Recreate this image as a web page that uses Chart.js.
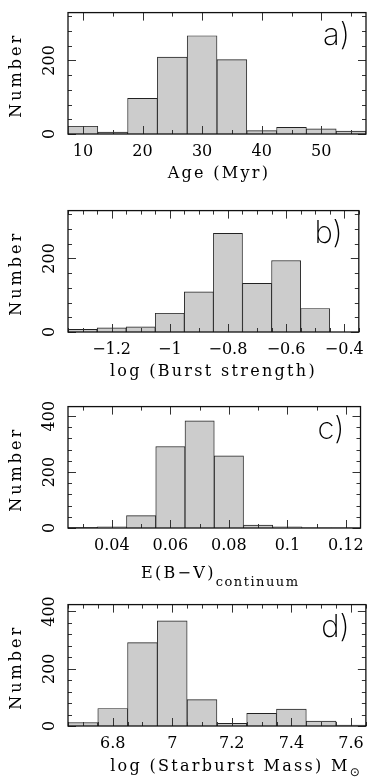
<!DOCTYPE html>
<html>
<head>
<meta charset="utf-8">
<script src="https://cdn.jsdelivr.net/npm/chart.js@4.4.1/dist/chart.umd.min.js"></script>
<style>
	body { margin: 0; background: #fff; width: 372px; height: 781px; overflow: hidden; position: relative; }
	canvas { position: absolute; left: 0; }
</style>
</head>
<body>
<canvas id="graph_age" width="372" height="195" style="top:0px"></canvas>
<canvas id="graph_burst" width="372" height="194" style="top:198px"></canvas>
<canvas id="graph_ebv" width="372" height="198" style="top:394px"></canvas>
<canvas id="graph_mass" width="372" height="189" style="top:592px"></canvas>
<script>
// bin centres and counts
var ageBins = [10, 15, 20, 25, 30, 35, 40, 45, 50, 55];
var ageCounts = [21, 5, 97, 209, 267, 202, 9, 18, 14, 8];
var ageTicks = [10, 20, 30, 40, 50];

var burstBins = [-1.3, -1.2, -1.1, -1.0, -0.9, -0.8, -0.7, -0.6, -0.5, -0.4];
var burstCounts = [7, 11, 14, 51, 109, 268, 132, 194, 64, 0];
var burstTicks = [-1.2, -1, -0.8, -0.6, -0.4];

var ebvBins = [0.03, 0.04, 0.05, 0.06, 0.07, 0.08, 0.09, 0.10, 0.11, 0.12];
var ebvCounts = [2, 4, 44, 291, 383, 258, 10, 4, 1, 1];
var ebvTicks = [0.04, 0.06, 0.08, 0.1, 0.12];

var massBins = [6.7, 6.8, 6.9, 7.0, 7.1, 7.2, 7.3, 7.4, 7.5, 7.6];
var massCounts = [12, 61, 291, 367, 92, 9, 44, 59, 17, 3];
var massTicks = [6.8, 7, 7.2, 7.4, 7.6];

var countTicksLow = [0, 200];
var countTicksHigh = [0, 200, 400];

var FRAME_BOTTOM = 134;
var SERIF = "16px 'DejaVu Serif', serif";

Chart.defaults.font.family = "'DejaVu Serif', serif";
Chart.defaults.font.size = 16;
Chart.defaults.color = '#000';

function fmt(v){
	return String(+(+v).toFixed(3)).replace('-', '\u2212');
}

function stepValues(min, max, step){
	var out = [];
	var v = Math.ceil(min / step - 1e-6);
	for(; v * step <= max + step * 1e-6; v++){
		out.push(+(v * step).toFixed(6));
	}
	return out;
}

function isMajor(v, ticks, step){
	for(var i = 0; i < ticks.length; i++){
		if(Math.abs(ticks[i].value - v) < step / 100) return true;
	}
	return false;
}

var histFramePlugin = {
	id: 'histFrame',
	afterDatasetsDraw: function(chart, args, opts){
		var ctx = chart.ctx;
		var a = chart.chartArea;
		var sx = chart.scales.x;
		var sy = chart.scales.y;
		ctx.save();

		//inward ticks on all four sides
		ctx.strokeStyle = '#333';
		ctx.lineWidth = 1;
		ctx.beginPath();
		stepValues(sx.min, sx.max, opts.xMinor).forEach(function(v){
			var len = isMajor(v, sx.ticks, opts.xMinor) ? 8 : 4;
			var px = Math.round(sx.getPixelForValue(v)) + 0.5;
			ctx.moveTo(px, a.bottom); ctx.lineTo(px, a.bottom - len);
			ctx.moveTo(px, a.top); ctx.lineTo(px, a.top + len);
		});
		stepValues(sy.min, sy.max, opts.yMinor).forEach(function(v){
			var len = isMajor(v, sy.ticks, opts.yMinor) ? 8 : 4;
			var py = Math.round(sy.getPixelForValue(v)) + 0.5;
			ctx.moveTo(a.left, py); ctx.lineTo(a.left + len, py);
			ctx.moveTo(a.right, py); ctx.lineTo(a.right - len, py);
		});
		ctx.stroke();

		//frame
		ctx.strokeStyle = '#111';
		ctx.lineWidth = 1.3;
		ctx.strokeRect(a.left, a.top, a.right - a.left, a.bottom - a.top);

		//panel letter
		ctx.fillStyle = '#000';
		ctx.font = "200 31px Inter, 'DejaVu Sans', sans-serif";
		ctx.textAlign = 'right';
		ctx.textBaseline = 'alphabetic';
		ctx.fillText(opts.letter, a.right - 16, a.top + 32);

		//y title
		ctx.font = SERIF;
		ctx.letterSpacing = '3px';
		ctx.textAlign = 'center';
		ctx.textBaseline = 'middle';
		ctx.save();
		ctx.translate(17, (a.top + a.bottom) / 2 + 2);
		ctx.rotate(-Math.PI / 2);
		ctx.fillText('Number', 0, 0);
		ctx.restore();

		//x title, parts may be lowered as subscripts
		ctx.textAlign = 'left';
		ctx.textBaseline = 'alphabetic';
		var widths = opts.title.map(function(p){
			ctx.font = p.font || SERIF;
			ctx.letterSpacing = p.spacing || '2.3px';
			return ctx.measureText(p.text).width;
		});
		var total = widths.reduce(function(s, w){ return s + w; }, 0);
		var x = (a.left + a.right) / 2 + opts.titleDx - total / 2;
		var base = a.bottom + opts.titleDy;
		opts.title.forEach(function(p, i){
			ctx.font = p.font || SERIF;
			ctx.letterSpacing = p.spacing || '2.3px';
			ctx.fillText(p.text, x, base + (p.sub || 0));
			x += widths[i];
		});
		ctx.restore();
	}
};

function makeConfig(bins, counts, xMin, xMax, xTicks, yMax, yTicks, canvasH, frame){
	return {
		type: 'bar',
		data: {
			datasets: [{
				data: bins.map(function(b, i){ return {x: b, y: counts[i]}; }),
				backgroundColor: '#cccccc',
				borderColor: '#222',
				borderWidth: 0.9,
				barPercentage: 1,
				categoryPercentage: 1
			}]
		},
		options: {
			animation: false,
			responsive: false,
			layout: {
				padding: {top: 6, right: 6, left: 0, bottom: 0}
			},
			scales: {
				x: {
					type: 'linear',
					min: xMin,
					max: xMax,
					offset: false,
					grid: {display: false, drawTicks: false},
					border: {display: false},
					ticks: {
						autoSkip: false,
						maxRotation: 0,
						padding: 8,
						callback: function(value){ return fmt(value); }
					},
					afterBuildTicks: function(s){
						s.ticks = xTicks.map(function(v){ return {value: v}; });
					},
					afterFit: function(s){
						s.height = canvasH - FRAME_BOTTOM;
					}
				},
				y: {
					min: 0,
					max: yMax,
					grid: {display: false, drawTicks: false},
					border: {display: false},
					ticks: {
						minRotation: 90,
						maxRotation: 90,
						crossAlign: 'center',
						padding: 3,
						callback: function(value){ return fmt(value); }
					},
					afterBuildTicks: function(s){
						s.ticks = yTicks.map(function(v){ return {value: v}; });
					},
					afterFit: function(s){
						s.width = 68;
					}
				}
			},
			plugins: {
				legend: {display: false},
				tooltip: {enabled: false},
				histFrame: frame
			}
		},
		plugins: [histFramePlugin]
	};
}

var graph_age_config = makeConfig(ageBins, ageCounts, 7.5, 57.5, ageTicks, 330, countTicksLow, 195, {
	letter: 'a)', xMinor: 5, yMinor: 40, titleDx: 2, titleDy: 44,
	title: [{text: 'Age (Myr)'}]
});
var graph_burst_config = makeConfig(burstBins, burstCounts, -1.35, -0.35, burstTicks, 330, countTicksLow, 194, {
	letter: 'b)', xMinor: 0.05, yMinor: 40, titleDx: 0, titleDy: 44,
	title: [{text: 'log (Burst strength)'}]
});
var graph_ebv_config = makeConfig(ebvBins, ebvCounts, 0.025, 0.125, ebvTicks, 434, countTicksHigh, 198, {
	letter: 'c)', xMinor: 0.01, yMinor: 40, titleDx: 6, titleDy: 50,
	title: [{text: 'E(B\u2212V)'}, {text: 'continuum', sub: 8, font: "13px 'DejaVu Serif', serif", spacing: '1.5px'}]
});
var graph_mass_config = makeConfig(massBins, massCounts, 6.65, 7.65, massTicks, 424, countTicksHigh, 189, {
	letter: 'd)', xMinor: 0.05, yMinor: 40, titleDx: 18, titleDy: 45,
	title: [{text: 'log (Starburst Mass) M'}, {text: '\u2299', sub: 5, font: "12px 'DejaVu Sans', sans-serif", spacing: '0px'}]
});

document.addEventListener("DOMContentLoaded", function(){
	new Chart(document.getElementById("graph_age").getContext('2d'), graph_age_config);
	new Chart(document.getElementById("graph_burst").getContext('2d'), graph_burst_config);
	new Chart(document.getElementById("graph_ebv").getContext('2d'), graph_ebv_config);
	new Chart(document.getElementById("graph_mass").getContext('2d'), graph_mass_config);
});
</script>
</body>
</html>
